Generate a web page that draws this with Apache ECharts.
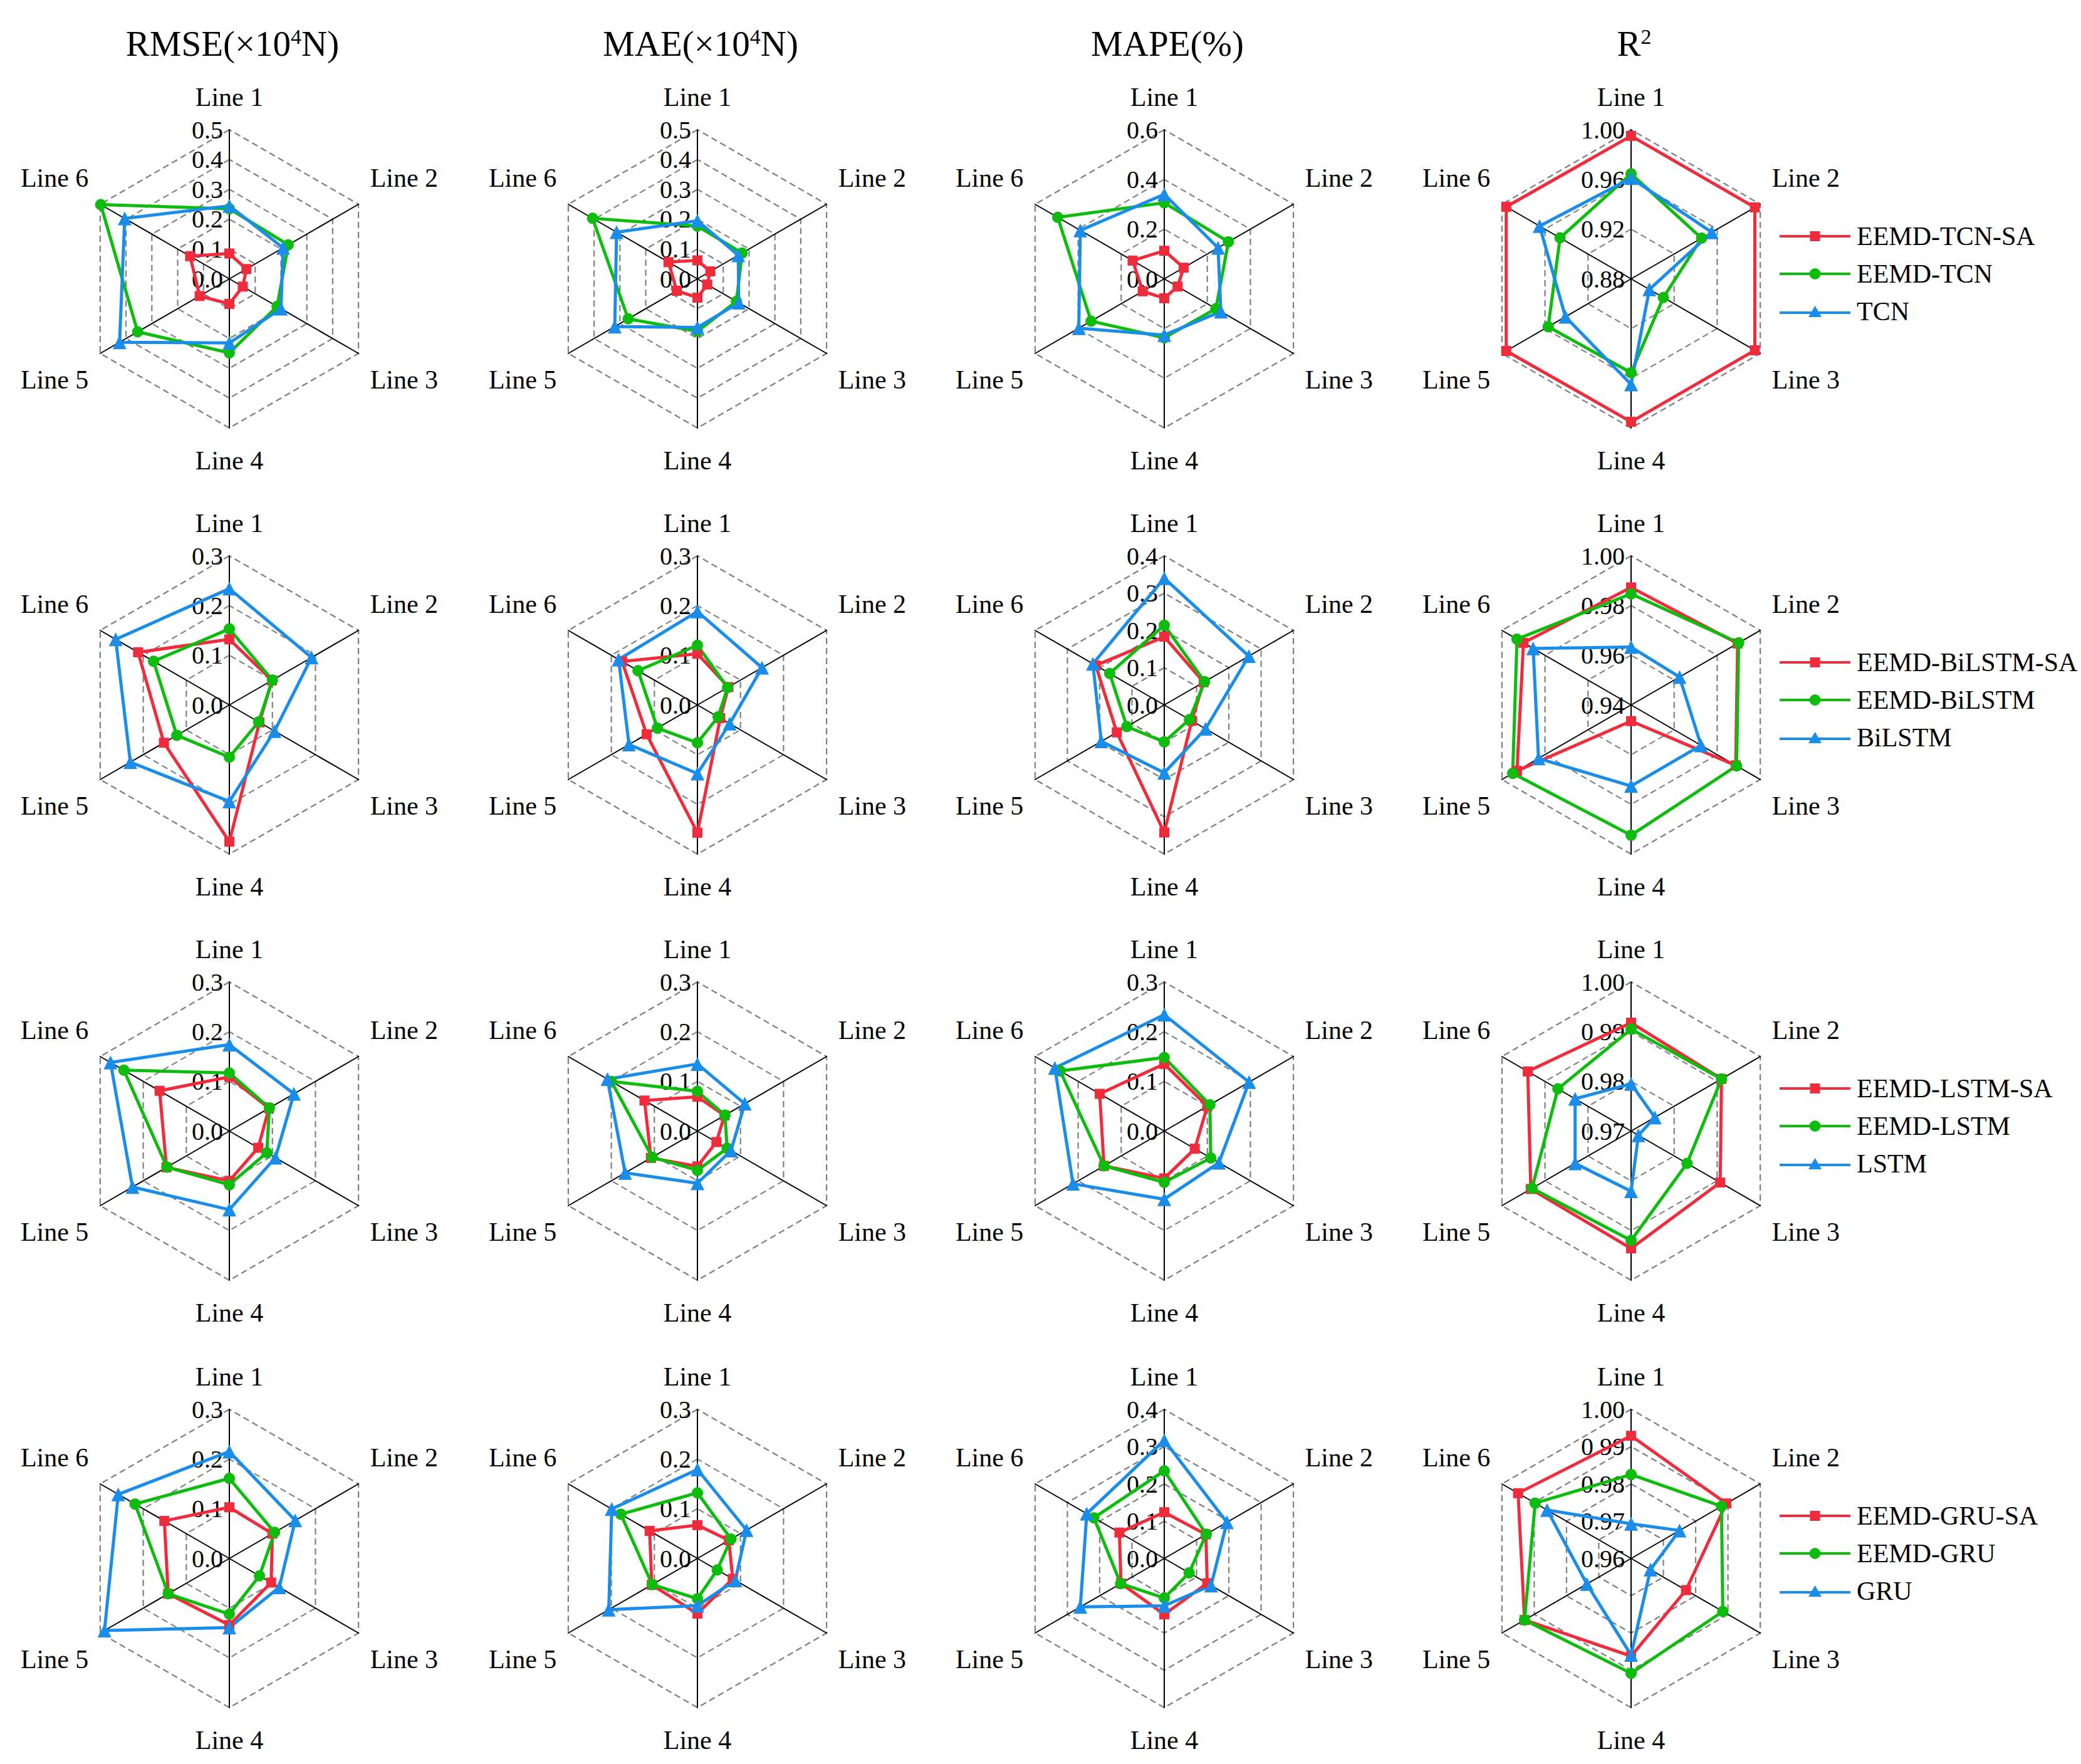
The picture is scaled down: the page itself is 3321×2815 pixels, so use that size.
<!DOCTYPE html>
<html><head><meta charset="utf-8">
<script src="https://cdn.jsdelivr.net/npm/echarts@6/dist/echarts.min.js"></script>
<style>html,body{margin:0;padding:0;background:#fff}#c{width:3321px;height:2815px}</style>
</head><body><div id="c"></div>
<script>
// ---------------- data ----------------
const lineNames = ['Line 1', 'Line 2', 'Line 3', 'Line 4', 'Line 5', 'Line 6'];
const columnTitles = ['RMSE(×10{sup|4}N)', 'MAE(×10{sup|4}N)', 'MAPE(%)', 'R{sup|2}'];
const modelGroups = [
  ['EEMD-TCN-SA', 'EEMD-TCN', 'TCN'],
  ['EEMD-BiLSTM-SA', 'EEMD-BiLSTM', 'BiLSTM'],
  ['EEMD-LSTM-SA', 'EEMD-LSTM', 'LSTM'],
  ['EEMD-GRU-SA', 'EEMD-GRU', 'GRU']
];
// axis scales per row / column
const axisMin = [[0, 0, 0, 0.88], [0, 0, 0, 0.94], [0, 0, 0, 0.97], [0, 0, 0, 0.96]];
const axisMax = [[0.5, 0.5, 0.6, 1.00], [0.3, 0.3, 0.4, 1.00], [0.3, 0.3, 0.3, 1.00], [0.3, 0.3, 0.4, 1.00]];
const axisSplit = [[5, 5, 3, 3], [3, 3, 4, 3], [3, 3, 3, 3], [3, 3, 4, 4]];
const labelDecimals = [1, 1, 1, 2];

// values in order Line 1 .. Line 6 ; each array: [SA model, EEMD model, base model]
const TCN_RMSE = [
  [0.085, 0.066, 0.052, 0.084, 0.115, 0.152],
  [0.235, 0.228, 0.185, 0.248, 0.355, 0.498],
  [0.245, 0.208, 0.200, 0.215, 0.425, 0.405]];
const TCN_MAE = [
  [0.062, 0.050, 0.038, 0.063, 0.080, 0.112],
  [0.177, 0.173, 0.151, 0.176, 0.268, 0.406],
  [0.195, 0.158, 0.160, 0.163, 0.320, 0.313]];
const TCN_MAPE = [
  [0.113, 0.090, 0.062, 0.078, 0.100, 0.147],
  [0.306, 0.298, 0.240, 0.237, 0.340, 0.495],
  [0.340, 0.250, 0.263, 0.226, 0.397, 0.390]];
const TCN_R2 = [
  [0.995, 0.995, 0.995, 0.995, 0.996, 0.996],
  [0.9645, 0.9455, 0.910, 0.9555, 0.957, 0.946],
  [0.961, 0.955, 0.897, 0.965, 0.941, 0.965]];

const BiLSTM_RMSE = [
  [0.132, 0.099, 0.070, 0.275, 0.152, 0.212],
  [0.153, 0.100, 0.068, 0.105, 0.122, 0.176],
  [0.234, 0.191, 0.105, 0.194, 0.230, 0.264]];
const BiLSTM_MAE = [
  [0.103, 0.072, 0.053, 0.257, 0.118, 0.175],
  [0.120, 0.070, 0.048, 0.076, 0.093, 0.138],
  [0.188, 0.150, 0.075, 0.138, 0.159, 0.183]];
const BiLSTM_MAPE = [
  [0.183, 0.122, 0.085, 0.342, 0.147, 0.212],
  [0.214, 0.125, 0.078, 0.099, 0.116, 0.169],
  [0.340, 0.262, 0.128, 0.182, 0.195, 0.221]];
const BiLSTM_R2 = [
  [0.9873, 0.9895, 0.9886, 0.9465, 0.993, 0.990],
  [0.9847, 0.990, 0.989, 0.9924, 0.995, 0.993],
  [0.9633, 0.9625, 0.9725, 0.9726, 0.983, 0.9855]];

const LSTM_RMSE = [
  [0.109, 0.092, 0.067, 0.100, 0.146, 0.162],
  [0.117, 0.093, 0.087, 0.108, 0.145, 0.245],
  [0.174, 0.150, 0.107, 0.158, 0.225, 0.276]];
const LSTM_MAE = [
  [0.069, 0.063, 0.044, 0.071, 0.108, 0.123],
  [0.080, 0.064, 0.069, 0.079, 0.105, 0.200],
  [0.135, 0.110, 0.078, 0.105, 0.168, 0.209]];
const LSTM_MAPE = [
  [0.135, 0.100, 0.071, 0.095, 0.140, 0.150],
  [0.148, 0.106, 0.108, 0.103, 0.140, 0.242],
  [0.234, 0.197, 0.127, 0.137, 0.212, 0.254]];
const LSTM_R2 = [
  [0.9918, 0.991, 0.9907, 0.9936, 0.9933, 0.994],
  [0.9905, 0.991, 0.983, 0.992, 0.993, 0.987],
  [0.9795, 0.9755, 0.9717, 0.9821, 0.983, 0.983]];

const GRU_RMSE = [
  [0.103, 0.100, 0.097, 0.134, 0.142, 0.151],
  [0.161, 0.105, 0.070, 0.112, 0.142, 0.219],
  [0.215, 0.153, 0.116, 0.139, 0.290, 0.258]];
const GRU_MAE = [
  [0.067, 0.073, 0.082, 0.111, 0.106, 0.111],
  [0.132, 0.078, 0.046, 0.081, 0.105, 0.178],
  [0.179, 0.114, 0.088, 0.095, 0.206, 0.199]];
const GRU_MAPE = [
  [0.124, 0.129, 0.133, 0.150, 0.134, 0.139],
  [0.235, 0.130, 0.077, 0.106, 0.135, 0.218],
  [0.317, 0.194, 0.145, 0.127, 0.260, 0.240]];
const GRU_R2 = [
  [0.9929, 0.9895, 0.977, 0.9862, 0.993, 0.995],
  [0.9825, 0.988, 0.9884, 0.9908, 0.993, 0.9897],
  [0.9693, 0.975, 0.966, 0.9859, 0.9737, 0.986]];

const allValues = [
  [TCN_RMSE, TCN_MAE, TCN_MAPE, TCN_R2],
  [BiLSTM_RMSE, BiLSTM_MAE, BiLSTM_MAPE, BiLSTM_R2],
  [LSTM_RMSE, LSTM_MAE, LSTM_MAPE, LSTM_R2],
  [GRU_RMSE, GRU_MAE, GRU_MAPE, GRU_R2]
];

// ---------------- layout / style ----------------
const FONT = 'Liberation Serif';
const colX = [366, 1113, 1858, 2603];
const rowY = [445, 1125, 1805, 2487];
const RADIUS = 238;
const colors = ['#F02B3C', '#0DBC0D', '#1A8DEB'];
const symbols = ['rect', 'circle', 'triangle'];
const symbolSizes = [16, 18, 22];
const legendIcons = [
  'path://M0,9 L113,9 L113,13 L0,13 Z M48.5,3 L64.5,3 L64.5,19 L48.5,19 Z',
  'path://M0,9 L113,9 L113,13 L0,13 Z M47.5,11 A9,9 0 1,1 65.5,11 A9,9 0 1,1 47.5,11 Z',
  'path://M0,9 L113,9 L113,13 L0,13 Z M56.5,0 L67,18 L46,18 Z'
];
// clockwise order: Line1 top, Line2 upper right ... ECharts radar goes counter-clockwise
const order = [0, 5, 4, 3, 2, 1];

const radars = [];
const series = [];
for (let r = 0; r < 4; r++) {
  for (let c = 0; c < 4; c++) {
    const mn = axisMin[r][c], mx = axisMax[r][c], dec = labelDecimals[c];
    radars.push({
      center: [colX[c], rowY[r]],
      radius: RADIUS,
      startAngle: 90,
      shape: 'polygon',
      splitNumber: axisSplit[r][c],
      nameGap: 84,
      indicator: order.map((li, k) => ({
        name: lineNames[li], min: mn, max: mx,
        axisLabel: k === 0 ? {
          show: true, color: '#000', fontFamily: FONT, fontSize: 40, margin: 10,
          formatter: v => Number(v).toFixed(dec)
        } : { show: false }
      })),
      axisName: {
        color: '#000', fontFamily: FONT, fontSize: 42,
        align: 'center', verticalAlign: 'middle',
        formatter: (name) => name === 'Line 1' ? '{t|' + name + '}' : (name === 'Line 4' ? '{b|' + name + '}' : '{n|' + name + '}'),
        rich: {
          t: { fontFamily: FONT, fontSize: 42, color: '#000', padding: [64, 0, 0, 0] },
          b: { fontFamily: FONT, fontSize: 42, color: '#000', padding: [0, 0, 64, 0] },
          n: { fontFamily: FONT, fontSize: 42, color: '#000' }
        }
      },
      axisLine: { lineStyle: { color: '#000', width: 2 } },
      axisTick: { show: false },
      axisLabel: { show: false },
      splitLine: { lineStyle: { color: '#808080', width: 2.2, type: [10, 6] } },
      splitArea: { show: false }
    });
    const vals = allValues[r][c];
    series.push({
      type: 'radar',
      radarIndex: r * 4 + c,
      animation: false,
      silent: true,
      data: [0, 1, 2].map(m => ({
        name: modelGroups[r][m],
        value: order.map(li => vals[m][li]),
        symbol: symbols[m],
        symbolSize: symbolSizes[m],
        itemStyle: { color: colors[m], borderWidth: 0 },
        lineStyle: { color: colors[m], width: 5 }
      }))
    });
  }
}

const titles = columnTitles.map((t, i) => ({
  text: t,
  left: colX[i],
  top: 36,
  textAlign: 'center',
  textStyle: {
    fontFamily: FONT, fontSize: 57, fontWeight: 'normal', color: '#000',
    rich: { sup: { fontFamily: FONT, fontSize: 34, color: '#000', verticalAlign: 'top', padding: [0, 0, 18, 0] } }
  }
}));

const legends = modelGroups.map((g, r) => ({
  orient: 'vertical',
  left: 2840,
  top: rowY[r] - 90,
  padding: 0,
  itemWidth: 113,
  itemHeight: 20,
  itemGap: 16,
  selectedMode: false,
  itemStyle: { borderWidth: 0 },
  textStyle: { fontFamily: FONT, fontSize: 42, lineHeight: 44, color: '#000', padding: [0, 0, 0, 5] },
  data: g.map((n, k) => ({ name: n, icon: legendIcons[k] }))
}));

const chart = echarts.init(document.getElementById('c'), null, { renderer: 'svg' });
chart.setOption({
  backgroundColor: '#fff',
  animation: false,
  title: titles,
  legend: legends,
  radar: radars,
  series: series
});
</script>
</body></html>
